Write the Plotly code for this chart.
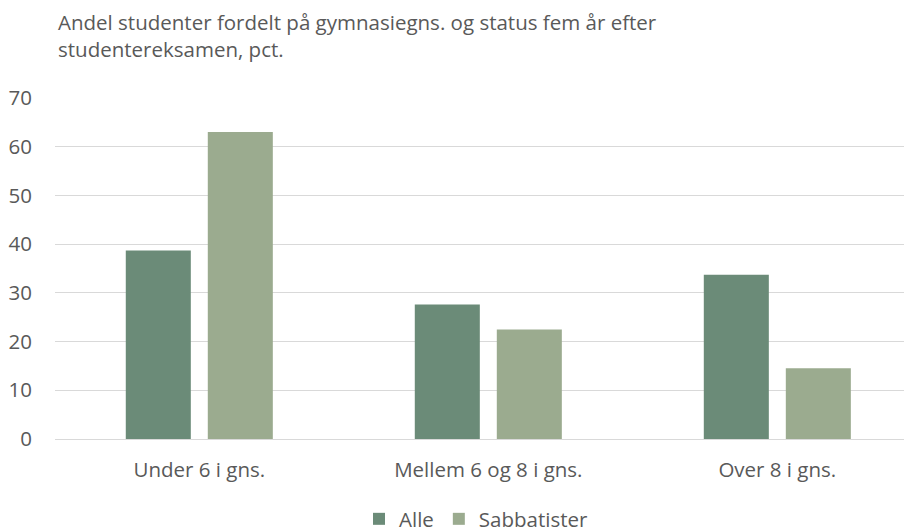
import plotly.graph_objects as go

categories = ["Under 6 i gns.", "Mellem 6 og 8 i gns.", "Over 8 i gns."]
alle = [38.7, 27.6, 33.7]
sabbatister = [63.0, 22.5, 14.5]
y_ticks = [0, 10, 20, 30, 40, 50, 60, 70]
title_text = "Andel studenter fordelt på gymnasiegns. og status fem år efter<br>studentereksamen, pct."

FONT = "Open Sans"
TXT = "#595959"
FS = 20.5

# The page body has an 8px margin, so figure coords = window coords - 8
OFF = 8
W, H = 912, 532
L, R, T, B = 55 - OFF, 8, 98 - OFF, 532 - (439 - OFF)
PW, PH = W - L - R, H - T - B
Y0 = H - B  # fig y of plot bottom


def px(xw):
    return (xw - OFF - L) / PW


def py(yw):
    return (Y0 - (yw - OFF)) / PH


fig = go.Figure()
fig.add_trace(go.Bar(name="Alle", x=categories, y=alle, marker=dict(color="#6B8B78", line=dict(width=0))))
fig.add_trace(go.Bar(name="Sabbatister", x=categories, y=sabbatister, marker=dict(color="#9BAB8F", line=dict(width=0))))

fig.add_annotation(
    text=title_text, xref="paper", yref="paper",
    x=px(55.5), y=py(36), xanchor="left", yanchor="middle",
    align="left", showarrow=False,
    font=dict(family=FONT, size=FS, color=TXT),
)

fig.update_layout(
    width=W, height=H,
    paper_bgcolor="white", plot_bgcolor="white",
    barmode="group", bargap=0.4325, bargroupgap=0.207,
    margin=dict(l=L, r=R, t=T, b=B, autoexpand=False),
    font=dict(family=FONT, color=TXT, size=FS),
    yaxis=dict(
        range=[0, 70], tickvals=y_ticks, showgrid=True, gridcolor="#D9D9D9", gridwidth=1,
        zeroline=True, zerolinecolor="#D9D9D9", zerolinewidth=1,
        showline=False, ticks="", ticklabelstandoff=22,
        tickfont=dict(family=FONT, size=FS, color=TXT),
    ),
    xaxis=dict(
        range=[-0.4993, 2.466],
        showline=False, ticks="", showgrid=False,
        tickfont=dict(family=FONT, size=FS, color=TXT),
        ticklabelstandoff=16,
    ),
    legend=dict(
        orientation="h", x=px(476.5), xanchor="center", y=py(519), yanchor="middle",
        font=dict(family=FONT, size=FS, color=TXT),
        traceorder="normal",
    ),
    showlegend=True,
)

fig.write_html("out.html")
